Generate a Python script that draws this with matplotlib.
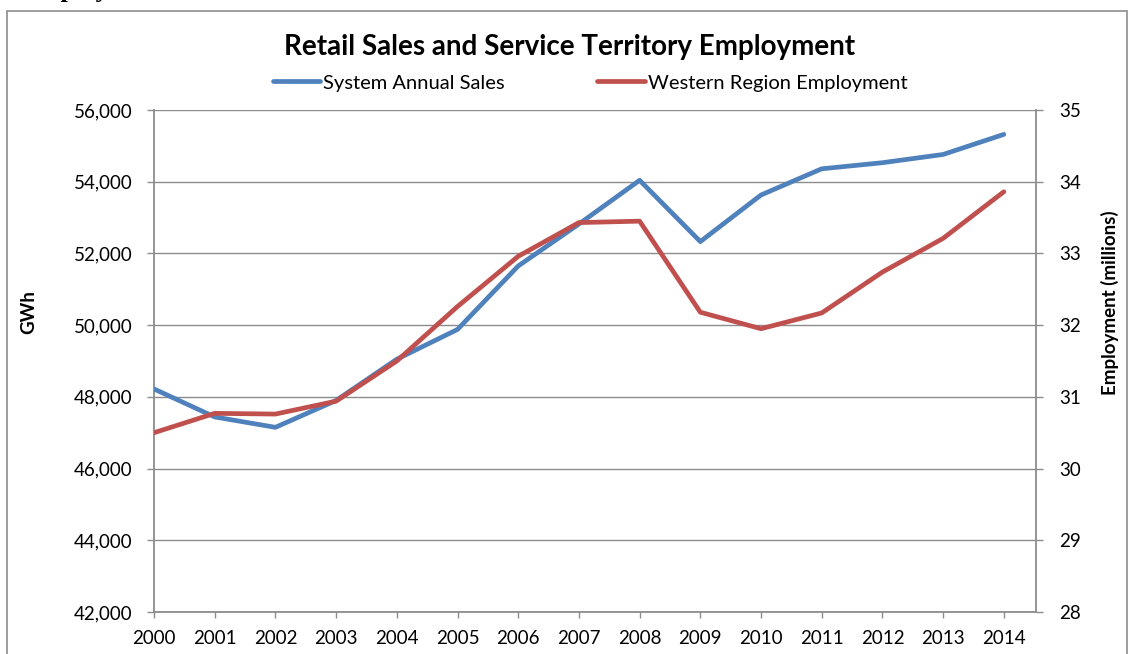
import matplotlib
matplotlib.use("Agg")
import matplotlib.pyplot as plt
from matplotlib.patches import Rectangle
from matplotlib.ticker import FuncFormatter

years = [2000, 2001, 2002, 2003, 2004, 2005, 2006, 2007, 2008, 2009, 2010, 2011, 2012, 2013, 2014]
sales_gwh = [48220, 47440, 47150, 47900, 49050, 49880, 51650, 52820, 54040, 52330, 53630, 54360, 54530, 54760, 55320]
employment_m = [30.50, 30.77, 30.76, 30.94, 31.50, 32.26, 32.96, 33.43, 33.45, 32.18, 31.95, 32.17, 32.74, 33.21, 33.86]
left_ticks = [42000, 44000, 46000, 48000, 50000, 52000, 54000, 56000]
right_ticks = [28, 29, 30, 31, 32, 33, 34, 35]

title = "Retail Sales and Service Territory Employment"
sales_label = "System Annual Sales"
emp_label = "Western Region Employment"

W, H = 1129, 654
FONT = "Lato"
plt.rcParams['font.family'] = [FONT, 'DejaVu Sans']

fig = plt.figure(figsize=(W / 100, H / 100), dpi=100)

# chart border
fig.patches.append(Rectangle((7 / W, -0.05), (1127 - 7) / W, 1.05 - 11 / H,
                             transform=fig.transFigure, fill=False,
                             edgecolor="#8c8c8c", linewidth=1.2))
# clipped text from surrounding document
fig.text(22 / W, 1 + 3 / H, "Employment", fontsize=19, fontweight="bold",
         family=["Liberation Serif", "DejaVu Serif"], va="baseline", ha="left")

left, right, top, bottom = 154, 1036, 110, 612
ax = fig.add_axes([left / W, 1 - bottom / H, (right - left) / W, (bottom - top) / H])
ax2 = ax.twinx()

x = list(range(len(years)))
grid_c = "#8c8c8c"

ax.plot(x, sales_gwh, color="#4F81BD", linewidth=3.4, solid_capstyle="round",
        solid_joinstyle="round", label=sales_label, zorder=3)
ax2.plot(x, employment_m, color="#C0504D", linewidth=3.4, solid_capstyle="round",
         solid_joinstyle="round", label=emp_label, zorder=3)

ax.set_xlim(0, 14.53)
ax.set_ylim(42000, 56000)
ax2.set_ylim(28, 35)
ax.set_yticks(left_ticks)
ax2.set_yticks(right_ticks)
ax.yaxis.set_major_formatter(FuncFormatter(lambda v, p: f"{int(v):,}"))
ax2.yaxis.set_major_formatter(FuncFormatter(lambda v, p: f"{int(v)}"))
ax.set_xticks(x)
ax.set_xticklabels([str(y) for y in years])

for a in (ax, ax2):
    a.set_facecolor("none")
    for s in a.spines.values():
        s.set_visible(False)
ax.spines["left"].set_visible(True)
ax.spines["bottom"].set_visible(True)
ax2.spines["right"].set_visible(True)
for s in (ax.spines["left"], ax.spines["bottom"], ax2.spines["right"]):
    s.set_color(grid_c)
    s.set_linewidth(1.3)

ax.grid(axis="y", color=grid_c, linewidth=1.0, zorder=1)
ax.set_axisbelow(True)

ax.tick_params(axis="y", direction="out", length=5, width=1.0, color=grid_c,
               labelsize=13.5, pad=10.5, labelcolor="black")
ax.tick_params(axis="x", direction="out", length=4, width=1.0, color=grid_c,
               labelsize=13.5, pad=9, labelcolor="black")
ax2.tick_params(axis="y", direction="out", length=5, width=1.0, color=grid_c,
                labelsize=13.5, pad=11.5, labelcolor="black")

fig.text(570 / W, 1 - 47 / H, title, fontsize=20, fontweight="bold",
         ha="center", va="center")
fig.text(29 / W, 1 - 312 / H, "GWh", fontsize=13.5, fontweight="bold",
         rotation=90, ha="center", va="center")
fig.text(1110 / W, 1 - 303 / H, "Employment (millions)", fontsize=13.5,
         fontweight="bold", rotation=90, ha="center", va="center")

h1, l1 = ax.get_legend_handles_labels()
h2, l2 = ax2.get_legend_handles_labels()
fig.legend(h1 + h2, l1 + l2, loc="center", bbox_to_anchor=(590 / W, 1 - 83 / H),
           ncol=2, frameon=False, fontsize=14.5, handlelength=2.35,
           handletextpad=0.15, columnspacing=4.6, borderpad=0, borderaxespad=0)

fig.savefig("out.png", dpi=100)
